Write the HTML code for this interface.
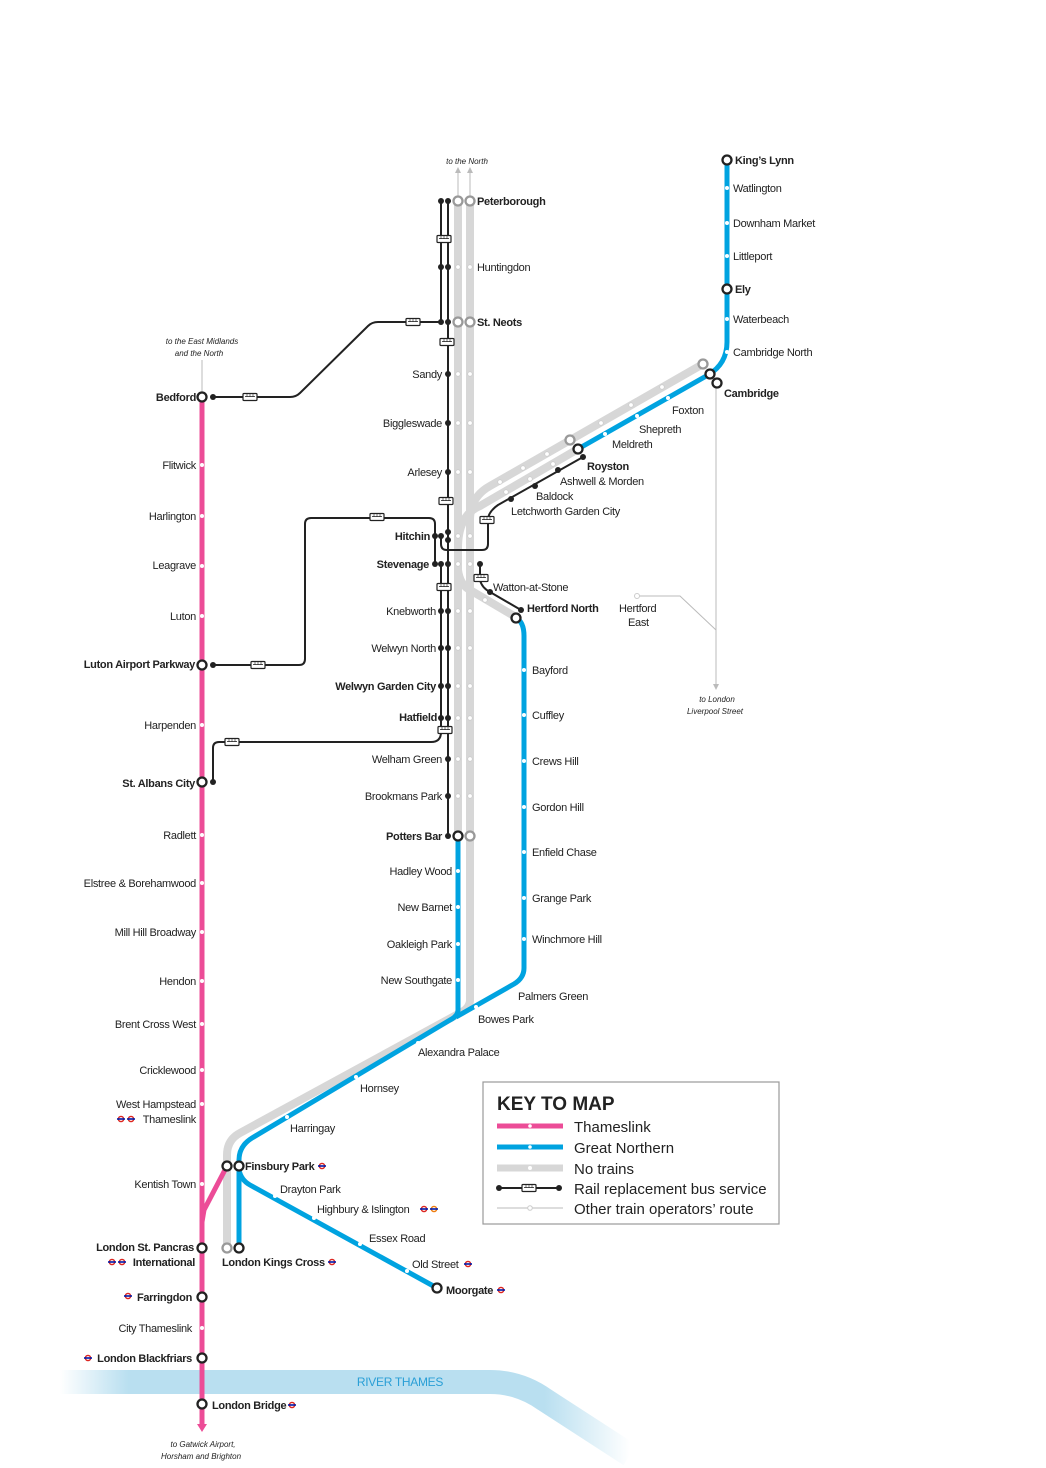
<!DOCTYPE html>
<html><head><meta charset="utf-8"><style>
html,body{margin:0;padding:0;background:#fff}
svg{display:block}
text{font-family:"Liberation Sans Narrow","Liberation Sans",sans-serif;font-size:11px;fill:#222;letter-spacing:-0.3px}
.b{font-weight:bold}
.e{text-anchor:end}
.i{font-style:italic;font-size:8px;letter-spacing:0}
.k{font-family:"Liberation Sans",sans-serif;font-size:15px;letter-spacing:0}
</style></head><body>
<svg width="1046" height="1468" viewBox="0 0 1046 1468" xmlns="http://www.w3.org/2000/svg">
<defs>
<g id="bus"><rect x="-7" y="-3.5" width="14" height="7" rx="1" fill="#fff" stroke="#222" stroke-width="1.2"/><line x1="-5" y1="-0.5" x2="5" y2="-0.5" stroke="#222" stroke-width="0.8"/><line x1="-3" y1="-3" x2="-3" y2="0" stroke="#222" stroke-width="0.6"/><line x1="0" y1="-3" x2="0" y2="0" stroke="#222" stroke-width="0.6"/><line x1="3" y1="-3" x2="3" y2="0" stroke="#222" stroke-width="0.6"/></g>
<g id="tube"><circle r="2.6" fill="#fff" stroke="#dc241f" stroke-width="1.4"/><rect x="-4" y="-0.8" width="8" height="1.6" fill="#0019a8"/></g>
<g id="ov"><circle r="2.6" fill="#fff" stroke="#ee7c0e" stroke-width="1.4"/><rect x="-4" y="-0.8" width="8" height="1.6" fill="#0019a8"/></g>
<linearGradient id="riv" x1="0" x2="1" y1="0" y2="0"><stop offset="0" stop-color="#b9dff0" stop-opacity="0"/><stop offset="0.12" stop-color="#b9dff0"/><stop offset="0.85" stop-color="#b9dff0"/><stop offset="1" stop-color="#b9dff0" stop-opacity="0"/></linearGradient>
</defs>

<path d="M60,1382 L490,1382 Q520,1382 545,1400 L630,1455" fill="none" stroke="url(#riv)" stroke-width="24"/>
<text x="400" y="1386" style="font-size:12px;fill:#2a9fd6;text-anchor:middle">RIVER THAMES</text>

<g stroke="#bbb" stroke-width="1" fill="none">
<line x1="202" y1="360" x2="202" y2="397"/>
<line x1="458" y1="172" x2="458" y2="201"/><line x1="470" y1="172" x2="470" y2="201"/>
<line x1="716" y1="383" x2="716" y2="688"/>
<path d="M637,596 L680,596 L716,630"/>
</g>
<g fill="#bbb"><path d="M455,173 L458,167 L461,173Z"/><path d="M467,173 L470,167 L473,173Z"/><path d="M713,684 L716,690 L719,684Z"/></g>
<circle cx="637" cy="596" r="2.5" fill="#fff" stroke="#ccc"/>

<g stroke="#d7d7d7" stroke-width="8" fill="none" stroke-linejoin="round">
<line x1="458" y1="201" x2="458" y2="836"/>
<path d="M470,201 L470,1000 Q470,1008 460,1013 L240,1133 Q227,1140 227,1155 L227,1248"/>
<path d="M470,520 Q470,497 490,486 L703,364"/>
<path d="M458,548 Q458,515 480,506 L578,449"/>
<path d="M458,570 Q460,585 470,590 L514,616"/>
</g>

<g stroke="#00a3e0" stroke-width="5" fill="none" stroke-linejoin="round">
<path d="M458,836 L458,1010 Q458,1016 450,1020 L252,1138 Q239,1146 239,1160 L239,1248"/>
<path d="M516,618 Q524,622 524,636 L524,968 Q524,978 514,984 L456,1017"/>
<path d="M239,1170 Q241,1180 250,1185 L437,1288"/>
<path d="M578,449 L708,375 Q727,364 727,342 L727,160"/>
</g>

<g stroke="#ec4c97" stroke-width="5" fill="none">
<line x1="202" y1="397" x2="202" y2="1425"/>
<path d="M202,1222 L204,1210 L227,1166"/>
</g>
<path d="M197,1424 L202,1432 L207,1424Z" fill="#ec4c97"/>

<g stroke="#222" stroke-width="2" fill="none" stroke-linejoin="round">
<line x1="441" y1="201" x2="441" y2="322"/>
<line x1="448" y1="201" x2="448" y2="836"/>
<path d="M213,397 L290,397 Q296,397 300,393 L368,326 Q372,322 378,322 L441,322"/>
<path d="M213,665 L299,665 Q305,665 305,659 L305,524 Q305,518 311,518 L429,518 Q435,518 435,524 L435,564"/>
<path d="M441,536 L441,544 Q441,550 447,550 L482,550 Q488,550 488,544 L488,520 Q488,512 498,505 L583,457"/>
<path d="M441,564 L441,732 Q441,742 431,742 L219,742 Q213,742 213,748 L213,782"/>
<path d="M480,564 L480,580 Q482,588 490,592 L521,610"/>
</g>
<use href="#bus" x="250" y="397"/><use href="#bus" x="413" y="322"/>
<use href="#bus" x="444" y="239"/><use href="#bus" x="447" y="342"/><use href="#bus" x="446" y="501"/>
<use href="#bus" x="258" y="665"/><use href="#bus" x="377" y="517"/><use href="#bus" x="487" y="520"/>
<use href="#bus" x="444" y="587"/><use href="#bus" x="481" y="578"/><use href="#bus" x="445" y="730"/><use href="#bus" x="232" y="742"/>

<g fill="#222">
<circle cx="441" cy="201" r="3"/><circle cx="448" cy="201" r="3"/>
<circle cx="441" cy="267" r="3"/><circle cx="448" cy="267" r="3"/>
<circle cx="441" cy="322" r="3"/><circle cx="448" cy="322" r="3"/>
<circle cx="448" cy="374" r="3"/><circle cx="448" cy="423" r="3"/><circle cx="448" cy="472" r="3"/>
<circle cx="435" cy="536" r="3"/><circle cx="441" cy="536" r="3"/><circle cx="448" cy="532" r="3"/><circle cx="448" cy="540" r="3"/>
<circle cx="435" cy="564" r="3"/><circle cx="441" cy="564" r="3"/><circle cx="448" cy="564" r="3"/><circle cx="480" cy="564" r="3"/>
<circle cx="441" cy="611" r="3"/><circle cx="448" cy="611" r="3"/>
<circle cx="441" cy="648" r="3"/><circle cx="448" cy="648" r="3"/>
<circle cx="441" cy="686" r="3"/><circle cx="448" cy="686" r="3"/>
<circle cx="441" cy="718" r="3"/><circle cx="448" cy="718" r="3"/>
<circle cx="448" cy="759" r="3"/><circle cx="448" cy="796" r="3"/><circle cx="448" cy="836" r="3"/>
<circle cx="213" cy="397" r="3"/><circle cx="213" cy="665" r="3"/><circle cx="213" cy="782" r="3"/>
<circle cx="583" cy="457" r="3"/><circle cx="558" cy="470" r="3"/><circle cx="535" cy="486" r="3"/><circle cx="511" cy="499" r="3"/>
<circle cx="490" cy="592" r="3"/><circle cx="521" cy="610" r="3"/>
</g>

<g fill="#fff" stroke="#ccc" stroke-width="0.8">
<circle cx="458" cy="267" r="2.3"/><circle cx="470" cy="267" r="2.3"/>
<circle cx="458" cy="374" r="2.3"/><circle cx="470" cy="374" r="2.3"/>
<circle cx="458" cy="423" r="2.3"/><circle cx="470" cy="423" r="2.3"/>
<circle cx="458" cy="472" r="2.3"/><circle cx="470" cy="472" r="2.3"/>
<circle cx="458" cy="536" r="2.3"/><circle cx="470" cy="536" r="2.3"/>
<circle cx="458" cy="564" r="2.3"/><circle cx="470" cy="564" r="2.3"/>
<circle cx="458" cy="611" r="2.3"/><circle cx="470" cy="611" r="2.3"/>
<circle cx="458" cy="648" r="2.3"/><circle cx="470" cy="648" r="2.3"/>
<circle cx="458" cy="686" r="2.3"/><circle cx="470" cy="686" r="2.3"/>
<circle cx="458" cy="718" r="2.3"/><circle cx="470" cy="718" r="2.3"/>
<circle cx="458" cy="759" r="2.3"/><circle cx="470" cy="759" r="2.3"/>
<circle cx="458" cy="796" r="2.3"/><circle cx="470" cy="796" r="2.3"/>
<circle cx="500" cy="482" r="2.3"/><circle cx="523" cy="468" r="2.3"/><circle cx="547" cy="454" r="2.3"/>
<circle cx="601" cy="423" r="2.3"/><circle cx="631" cy="405" r="2.3"/><circle cx="662" cy="387" r="2.3"/>
<circle cx="506" cy="492" r="2.3"/><circle cx="530" cy="479" r="2.3"/><circle cx="553" cy="464" r="2.3"/>
<circle cx="485" cy="600" r="2.3"/>
</g>
<g fill="#fff">
<circle cx="202" cy="465" r="2"/><circle cx="202" cy="516" r="2"/><circle cx="202" cy="566" r="2"/><circle cx="202" cy="616" r="2"/>
<circle cx="202" cy="725" r="2"/><circle cx="202" cy="835" r="2"/><circle cx="202" cy="883" r="2"/><circle cx="202" cy="932" r="2"/>
<circle cx="202" cy="981" r="2"/><circle cx="202" cy="1024" r="2"/><circle cx="202" cy="1070" r="2"/><circle cx="202" cy="1104" r="2"/>
<circle cx="202" cy="1184" r="2"/><circle cx="202" cy="1328" r="2"/>
<circle cx="458" cy="871" r="2"/><circle cx="458" cy="907" r="2"/><circle cx="458" cy="944" r="2"/><circle cx="458" cy="980" r="2"/>
<circle cx="524" cy="670" r="2"/><circle cx="524" cy="715" r="2"/><circle cx="524" cy="761" r="2"/><circle cx="524" cy="807" r="2"/>
<circle cx="524" cy="852" r="2"/><circle cx="524" cy="898" r="2"/><circle cx="524" cy="939" r="2"/>
<circle cx="476" cy="1007" r="2"/><circle cx="418" cy="1043" r="2"/><circle cx="356" cy="1077" r="2"/><circle cx="287" cy="1117" r="2"/>
<circle cx="275" cy="1196" r="2"/><circle cx="314" cy="1218" r="2"/><circle cx="360" cy="1244" r="2"/><circle cx="407" cy="1271" r="2"/>
<circle cx="605" cy="434" r="2"/><circle cx="637" cy="416" r="2"/><circle cx="668" cy="398" r="2"/>
<circle cx="727" cy="188" r="2"/><circle cx="727" cy="223" r="2"/><circle cx="727" cy="256" r="2"/><circle cx="727" cy="319" r="2"/><circle cx="727" cy="352" r="2"/>
</g>

<g fill="#fff" stroke="#222" stroke-width="2.3">
<circle cx="202" cy="397" r="4.5"/><circle cx="202" cy="665" r="4.5"/><circle cx="202" cy="782" r="4.5"/>
<circle cx="202" cy="1248" r="4.5"/><circle cx="202" cy="1297" r="4.5"/><circle cx="202" cy="1358" r="4.5"/><circle cx="202" cy="1404" r="4.5"/>
<circle cx="227" cy="1166" r="4.5"/><circle cx="239" cy="1166" r="4.5"/><circle cx="239" cy="1248" r="4.5"/>
<circle cx="437" cy="1288" r="4.5"/><circle cx="458" cy="836" r="4.5"/><circle cx="516" cy="618" r="4.5"/>
<circle cx="578" cy="449" r="4.5"/><circle cx="710" cy="374" r="4.5"/><circle cx="717" cy="383" r="4.5"/>
<circle cx="727" cy="160" r="4.5"/><circle cx="727" cy="289" r="4.5"/>
</g>
<g fill="#fff" stroke="#999" stroke-width="2.3">
<circle cx="458" cy="201" r="4.5"/><circle cx="470" cy="201" r="4.5"/><circle cx="458" cy="322" r="4.5"/><circle cx="470" cy="322" r="4.5"/>
<circle cx="470" cy="836" r="4.5"/><circle cx="227" cy="1248" r="4.5"/><circle cx="570" cy="440" r="4.5"/><circle cx="703" cy="364" r="4.5"/>
</g>

<use href="#tube" x="322" y="1166"/><use href="#tube" x="424" y="1209"/><use href="#ov" x="434" y="1209"/>
<use href="#tube" x="332" y="1262"/><use href="#tube" x="468" y="1264"/><use href="#tube" x="501" y="1290"/>
<use href="#tube" x="121" y="1119"/><use href="#tube" x="131" y="1119"/>
<use href="#tube" x="112" y="1262"/><use href="#tube" x="122" y="1262"/>
<use href="#tube" x="128" y="1296"/><use href="#tube" x="88" y="1358"/><use href="#tube" x="292" y="1405"/>

<text class="i" x="202" y="344" style="text-anchor:middle">to the East Midlands</text>
<text class="i" x="199" y="356" style="text-anchor:middle">and the North</text>
<text class="b e" x="196" y="401">Bedford</text>
<text class="e" x="196" y="469">Flitwick</text>
<text class="e" x="196" y="520">Harlington</text>
<text class="e" x="196" y="569">Leagrave</text>
<text class="e" x="196" y="620">Luton</text>
<text class="b e" x="195" y="668">Luton Airport Parkway</text>
<text class="e" x="196" y="729">Harpenden</text>
<text class="b e" x="195" y="787">St. Albans City</text>
<text class="e" x="196" y="839">Radlett</text>
<text class="e" x="196" y="887">Elstree &amp; Borehamwood</text>
<text class="e" x="196" y="936">Mill Hill Broadway</text>
<text class="e" x="196" y="985">Hendon</text>
<text class="e" x="196" y="1028">Brent Cross West</text>
<text class="e" x="196" y="1074">Cricklewood</text>
<text class="e" x="196" y="1108">West Hampstead</text>
<text class="e" x="196" y="1123">Thameslink</text>
<text class="e" x="196" y="1188">Kentish Town</text>
<text class="b e" x="194" y="1251">London St. Pancras</text>
<text class="b e" x="195" y="1266">International</text>
<text class="b e" x="192" y="1301">Farringdon</text>
<text class="e" x="192" y="1332">City Thameslink</text>
<text class="b e" x="192" y="1362">London Blackfriars</text>
<text class="b" x="212" y="1409">London Bridge</text>
<text class="i" x="203" y="1447" style="text-anchor:middle">to Gatwick Airport,</text>
<text class="i" x="201" y="1459" style="text-anchor:middle">Horsham and Brighton</text>

<text class="i" x="467" y="164" style="text-anchor:middle">to the North</text>
<text class="b" x="477" y="205">Peterborough</text>
<text x="477" y="271">Huntingdon</text>
<text class="b" x="477" y="326">St. Neots</text>
<text class="e" x="442" y="378">Sandy</text>
<text class="e" x="442" y="427">Biggleswade</text>
<text class="e" x="442" y="476">Arlesey</text>
<text class="b e" x="430" y="540">Hitchin</text>
<text class="b e" x="429" y="568">Stevenage</text>
<text class="e" x="436" y="615">Knebworth</text>
<text class="e" x="436" y="652">Welwyn North</text>
<text class="b e" x="436" y="690">Welwyn Garden City</text>
<text class="b e" x="437" y="721">Hatfield</text>
<text class="e" x="442" y="763">Welham Green</text>
<text class="e" x="442" y="800">Brookmans Park</text>
<text class="b e" x="442" y="840">Potters Bar</text>
<text class="e" x="452" y="875">Hadley Wood</text>
<text class="e" x="452" y="911">New Barnet</text>
<text class="e" x="452" y="948">Oakleigh Park</text>
<text class="e" x="452" y="984">New Southgate</text>
<text x="493" y="591">Watton-at-Stone</text>
<text class="b" x="527" y="612">Hertford North</text>
<text x="619" y="612">Hertford</text>
<text x="628" y="626">East</text>
<text class="i" x="717" y="702" style="text-anchor:middle">to London</text>
<text class="i" x="715" y="714" style="text-anchor:middle">Liverpool Street</text>
<text x="532" y="674">Bayford</text>
<text x="532" y="719">Cuffley</text>
<text x="532" y="765">Crews Hill</text>
<text x="532" y="811">Gordon Hill</text>
<text x="532" y="856">Enfield Chase</text>
<text x="532" y="902">Grange Park</text>
<text x="532" y="943">Winchmore Hill</text>
<text x="518" y="1000">Palmers Green</text>
<text x="478" y="1023">Bowes Park</text>
<text x="418" y="1056">Alexandra Palace</text>
<text x="360" y="1092">Hornsey</text>
<text x="290" y="1132">Harringay</text>
<text class="b" x="245" y="1170">Finsbury Park</text>
<text x="280" y="1193">Drayton Park</text>
<text x="317" y="1213">Highbury &amp; Islington</text>
<text x="369" y="1242">Essex Road</text>
<text x="412" y="1268">Old Street</text>
<text class="b" x="446" y="1294">Moorgate</text>
<text class="b" x="222" y="1266">London Kings Cross</text>

<text class="b" x="587" y="470">Royston</text>
<text x="560" y="485">Ashwell &amp; Morden</text>
<text x="536" y="500">Baldock</text>
<text x="511" y="515">Letchworth Garden City</text>
<text x="612" y="448">Meldreth</text>
<text x="639" y="433">Shepreth</text>
<text x="672" y="414">Foxton</text>
<text class="b" x="724" y="397">Cambridge</text>
<text x="733" y="356">Cambridge North</text>
<text x="733" y="323">Waterbeach</text>
<text class="b" x="735" y="293">Ely</text>
<text x="733" y="260">Littleport</text>
<text x="733" y="227">Downham Market</text>
<text x="733" y="192">Watlington</text>
<text class="b" x="735" y="164">King’s Lynn</text>

<rect x="483" y="1082" width="296" height="142" fill="#fff" stroke="#999" stroke-width="1.2"/>
<text x="497" y="1110" style="font-family:'Liberation Sans',sans-serif;font-size:19px;font-weight:bold;fill:#222;letter-spacing:0">KEY TO MAP</text>
<line x1="497" y1="1126" x2="563" y2="1126" stroke="#ec4c97" stroke-width="5"/><circle cx="530" cy="1126" r="1.8" fill="#fff"/>
<line x1="497" y1="1147" x2="563" y2="1147" stroke="#00a3e0" stroke-width="5"/><circle cx="530" cy="1147" r="1.8" fill="#fff"/>
<line x1="497" y1="1168" x2="563" y2="1168" stroke="#d7d7d7" stroke-width="7"/><circle cx="530" cy="1168" r="2" fill="#fff"/>
<line x1="499" y1="1188" x2="559" y2="1188" stroke="#222" stroke-width="2"/><circle cx="499" cy="1188" r="3" fill="#222"/><circle cx="559" cy="1188" r="3" fill="#222"/><use href="#bus" x="529" y="1188"/>
<line x1="497" y1="1208" x2="563" y2="1208" stroke="#bbb" stroke-width="1"/><circle cx="530" cy="1208" r="2.3" fill="#fff" stroke="#ccc"/>
<text class="k" x="574" y="1132">Thameslink</text>
<text class="k" x="574" y="1153">Great Northern</text>
<text class="k" x="574" y="1174">No trains</text>
<text class="k" x="574" y="1194">Rail replacement bus service</text>
<text class="k" x="574" y="1214">Other train operators’ route</text>
</svg>
</body></html>
